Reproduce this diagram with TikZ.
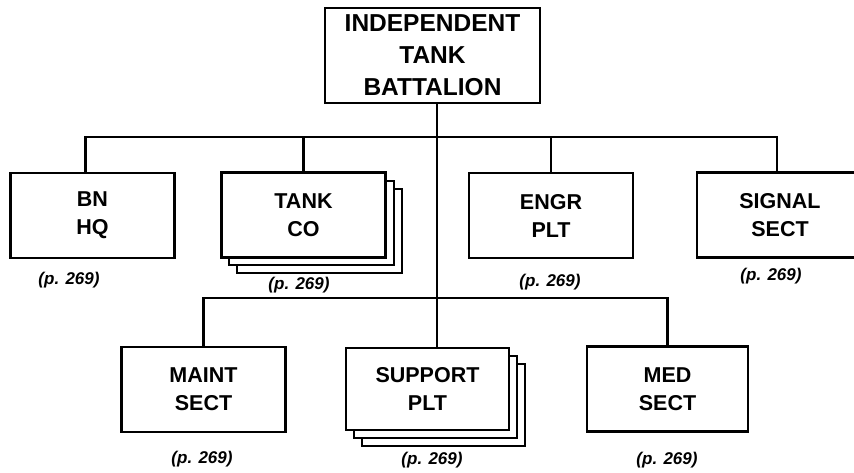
\documentclass[tikz,border=0pt]{standalone}
\usepackage{fontspec}
\setmainfont{Liberation Sans}
\begin{document}
\begin{tikzpicture}[x=1pt,y=-1pt,line width=2.2pt,
  unitbox/.style={draw,fill=white,minimum width=164pt,minimum height=85pt,inner sep=0pt,align=center,
    font=\fontsize{21.5}{28}\selectfont\bfseries},
  topbox/.style={draw,fill=white,minimum width=215pt,minimum height=95pt,inner sep=0pt,align=center,
    font=\fontsize{24.5}{32}\selectfont\bfseries},
  pageref/.style={font=\fontsize{17}{20}\selectfont\bfseries\itshape,inner sep=0pt}]
\clip (0,0) rectangle (854,472);
\fill[white] (0,0) rectangle (854,472);
% stacked back sheets
\foreach \d in {16,8}{
  \draw[fill=white] (221+\d,173+\d) rectangle (386+\d,257+\d);
  \draw[fill=white] (346+\d,348+\d) rectangle (509+\d,430+\d);
}
\node[topbox] (top) at (432.5,55.5) {INDEPENDENT\\TANK\\BATTALION};
\node[unitbox] (bn) at (92.5,215.5) {BN\\HQ};
\node[unitbox] (tank) at (303.5,215) {TANK\\CO};
\node[unitbox] (engr) at (551,215.5) {ENGR\\PLT};
\node[unitbox,minimum width=166pt] (signal) at (780,215) {SIGNAL\\SECT};
\node[unitbox] (maint) at (203.5,389.5) {MAINT\\SECT};
\node[unitbox,minimum width=163pt,minimum height=82pt] (support) at (427.5,389) {SUPPORT\\PLT};
\node[unitbox,minimum width=161pt] (med) at (667.5,389) {MED\\SECT};
% page references
\node[pageref] (pbn) at (69,280) {(p. 269)};
\node[pageref] (ptank) at (299,285) {(p. 269)};
\node[pageref] (pengr) at (550,282) {(p. 269)};
\node[pageref] (psignal) at (771,276) {(p. 269)};
\node[pageref] (pmaint) at (202,459) {(p. 269)};
\node[pageref] (psupport) at (432,460) {(p. 269)};
\node[pageref] (pmed) at (667,460) {(p. 269)};
% connectors
\coordinate (ub) at (0,137);
\coordinate (lb) at (0,298);
\coordinate (trunk) at (437,0);
\draw (top.south -| trunk) -- (support.north -| trunk);
\draw ([xshift=-7pt]bn.north) |- ([xshift=-3pt]signal.north |- ub) -- ([xshift=-3pt]signal.north);
\draw (tank.north) -- (tank.north |- ub);
\draw (engr.north) -- (engr.north |- ub);
\draw (maint.north) |- (med.north |- lb) -- (med.north);
\end{tikzpicture}
\end{document}
